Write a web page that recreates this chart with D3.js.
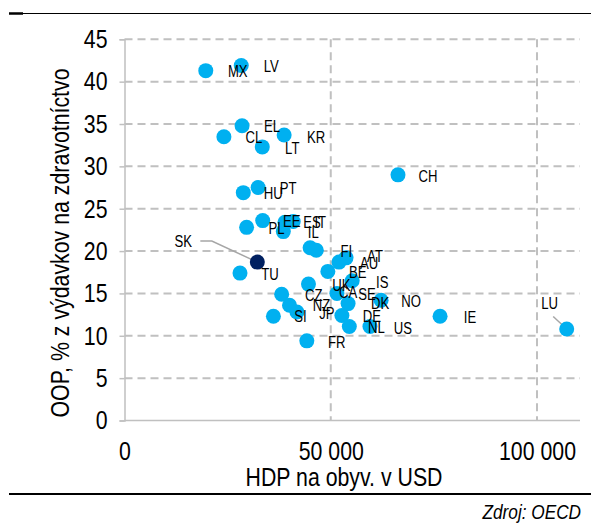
<!DOCTYPE html>
<html><head><meta charset="utf-8">
<script src="https://cdn.jsdelivr.net/npm/d3@7"></script>
<style>body{margin:0;background:#fff}</style>
</head><body><svg id="c" width="591" height="525"></svg>
<script>
// ---- data ----
const countries = ["MX","LV","EL","CL","LT","KR","CH","HU","PT","PL","EE","ES","IT","IL","CA","FI","SK","TU","AT","AU","BE","IS","UK","CZ","NZ","JP","SI","FR","SE","DK","DE","NL","US","NO","IE","LU"];
const gdp = [19700,28300,28500,24100,33400,38700,66300,28800,32400,29600,33500,38900,40900,38500,45000,46500,32200,28000,53700,52000,49300,55200,44600,38100,40000,41800,36100,44200,51500,54200,52700,54500,59500,62200,76500,107200];
const oop = [41.3,41.9,34.8,33.5,32.3,33.7,29.0,26.9,27.5,22.8,23.6,23.4,23.5,22.3,20.4,20.1,18.7,17.4,19.2,18.7,17.6,16.5,16.1,14.9,13.6,12.8,12.3,9.4,15.0,13.8,12.4,11.1,11.1,14.2,12.3,10.8];
const highlighted = ["SK"];
const xTicks = [0, 50000, 100000];
const yTicks = [0, 5, 10, 15, 20, 25, 30, 35, 40, 45];
const xTitle = "HDP na obyv. v USD";
const yTitle = "OOP, % z výdavkov na zdravotníctvo";
const sourceText = "Zdroj: OECD";

// ---- layout (label offsets in px, centre of label relative to point) ----
const defaultOffset = [30, 1];
const labelOffsets = {MX:[32,1], KR:[32,2], ES:[27,0], IT:[27,1], CA:[38,45], SK:[-74,-21], AT:[29,-2],
  UK:[33,1], CZ:[32,1], NZ:[32,0], SI:[27,0], DK:[32,0], NL:[27,1], US:[33,2], LU:[-17,-26], EE:[29,1]};
const leaders = {SK:[[-57,-21],[-45.5,-21],[0,0]], LU:[[-13.5,-12.5],[0,0]]};

const data = countries.map((c,i)=>({c, x:gdp[i], y:oop[i]}));
const FONT = "'Liberation Sans',Arial,sans-serif";
const K = 0.82; // horizontal condensing, the reference uses a narrow face
const svg = d3.select("#c");
const x = d3.scaleLinear().domain([0,100000]).range([124.5,537]);
const y = d3.scaleLinear().domain([0,45]).range([420.5,39.3]);
const right = 580;
const grid = "#c0c0c0";

function narrow(sel){
  sel.each(function(){
    const t = d3.select(this);
    const x0 = +t.attr("x")||0, y0 = +t.attr("y")||0;
    t.attr("x",0).attr("y",0).attr("transform",`translate(${x0},${y0}) scale(${K},1)`);
  });
}

// rules
svg.append("line").attr("x1",9).attr("x2",591).attr("y1",13.5).attr("y2",13.5).attr("stroke","#000").attr("stroke-width",1);
svg.append("line").attr("x1",9).attr("x2",23).attr("y1",13.5).attr("y2",13.5).attr("stroke","#000").attr("stroke-width",2.5);
svg.append("line").attr("x1",9).attr("x2",591).attr("y1",494).attr("y2",494).attr("stroke","#000").attr("stroke-width",2);

// gridlines
svg.append("g").selectAll("line").data(yTicks.filter(d=>d>0)).join("line")
  .attr("x1",x(0)).attr("x2",right).attr("y1",d=>y(d)).attr("y2",d=>y(d))
  .attr("stroke",grid).attr("stroke-width",2).attr("stroke-dasharray","8,5");
svg.append("g").selectAll("line").data(xTicks.filter(d=>d>0)).join("line")
  .attr("x1",d=>x(d)).attr("x2",d=>x(d)).attr("y1",y(45)).attr("y2",y(0))
  .attr("stroke",grid).attr("stroke-width",2).attr("stroke-dasharray","8,5");

// axes
const loc = d3.formatLocale({decimal:",", thousands:" ", grouping:[3], currency:["",""]});
const fmt = loc.format(",");
const yAxis = svg.append("g").attr("transform",`translate(${x(0)},0)`)
  .call(d3.axisLeft(y).tickValues(yTicks).tickSize(5).tickPadding(12));
yAxis.select(".domain").attr("stroke",grid).attr("stroke-width",1.5);
yAxis.selectAll(".tick line").attr("stroke",grid).attr("stroke-width",1.5);
yAxis.selectAll("text").attr("font-family",FONT).attr("font-size",26).attr("fill","#000").call(narrow);
const xAxis = svg.append("g").attr("transform",`translate(0,${y(0)})`)
  .call(d3.axisBottom(x).tickValues(xTicks).tickSize(0).tickPadding(21).tickFormat(fmt));
xAxis.select(".domain").remove();
xAxis.selectAll("text").attr("font-family",FONT).attr("font-size",26).attr("fill","#000").call(narrow);
svg.append("line").attr("x1",x(0)).attr("x2",right).attr("y1",y(0)).attr("y2",y(0)).attr("stroke",grid).attr("stroke-width",1.5);

// titles
svg.append("text").attr("x",344).attr("y",486).attr("text-anchor","middle")
  .attr("font-family",FONT).attr("font-size",26).text(xTitle).call(narrow);
svg.append("text").attr("transform",`translate(69,243) rotate(-90) scale(${K},1)`).attr("text-anchor","middle")
  .attr("font-family",FONT).attr("font-size",26).text(yTitle);
svg.append("text").attr("x",581).attr("y",519).attr("text-anchor","end").attr("font-style","italic")
  .attr("font-family",FONT).attr("font-size",21).text(sourceText).call(narrow);

// leader lines
Object.entries(leaders).forEach(([c,pts])=>{
  const d = data.find(e=>e.c===c);
  svg.append("path").attr("d", d3.line()(pts.map(p=>[x(d.x)+p[0], y(d.y)+p[1]])))
    .attr("fill","none").attr("stroke","#a6a6a6").attr("stroke-width",1.5);
});

// points
svg.append("g").selectAll("circle").data(data).join("circle")
  .attr("cx",d=>x(d.x)).attr("cy",d=>y(d.y)).attr("r",7.5)
  .attr("fill",d=>highlighted.includes(d.c)?"#002060":"#00b0f0");

// labels
svg.append("g").selectAll("text").data(data).join("text")
  .attr("x",d=>x(d.x)+(labelOffsets[d.c]||defaultOffset)[0])
  .attr("y",d=>y(d.y)+(labelOffsets[d.c]||defaultOffset)[1])
  .attr("dy","0.36em").attr("text-anchor","middle")
  .attr("font-family",FONT).attr("font-size",16).attr("fill","#000").text(d=>d.c).call(narrow);
</script></body></html>
